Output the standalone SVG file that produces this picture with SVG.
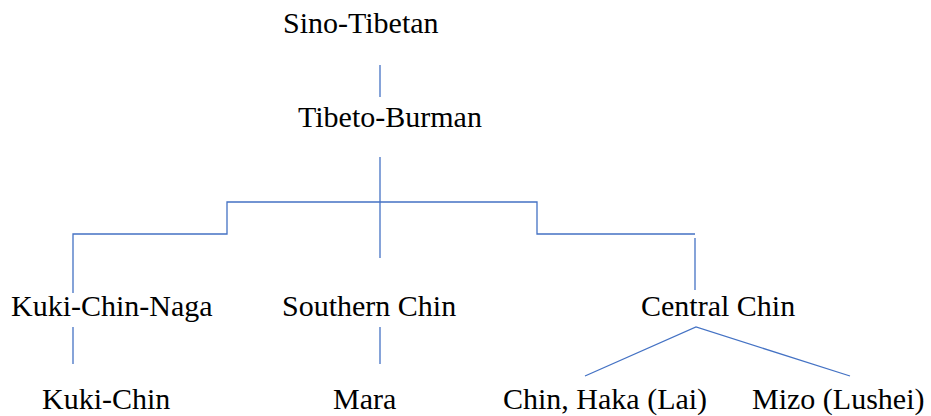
<svg xmlns="http://www.w3.org/2000/svg" width="931" height="416" viewBox="0 0 931 416">
<style>
text{font-family:"Liberation Serif","Times New Roman",serif;font-size:30px;fill:#000}
.c{stroke:#4472C4;stroke-width:1.3;fill:none}
</style>
<rect width="931" height="416" fill="#fff"/>
<g id="connectors">
<line class="c" x1="380" y1="65" x2="380" y2="97"/>
<line class="c" x1="380" y1="157" x2="380" y2="258"/>
<polyline class="c" points="73,293 73,234 227,234 227,202 537,202 537,234 695,234"/>
<line class="c" x1="695" y1="238" x2="695" y2="290"/>
<line class="c" x1="73" y1="327" x2="73" y2="364"/>
<line class="c" x1="380" y1="327" x2="380" y2="364"/>
<polyline class="c" points="585,376 696,327 850,376"/>
</g>
<g id="sino-tibetan"><text x="283" y="33">Sino-Tibetan</text></g>
<g id="tibeto-burman"><text x="298" y="127">Tibeto-Burman</text></g>
<g id="kuki-chin-naga"><text x="11" y="316">Kuki-Chin-Naga</text></g>
<g id="southern-chin"><text x="282" y="316">Southern Chin</text></g>
<g id="central-chin"><text x="641" y="316">Central Chin</text></g>
<g id="kuki-chin"><text x="42" y="409">Kuki-Chin</text></g>
<g id="mara"><text x="333" y="409">Mara</text></g>
<g id="chin-haka"><text x="503" y="409">Chin, Haka (Lai)</text></g>
<g id="mizo"><text x="752" y="409">Mizo (Lushei)</text></g>
</svg>
